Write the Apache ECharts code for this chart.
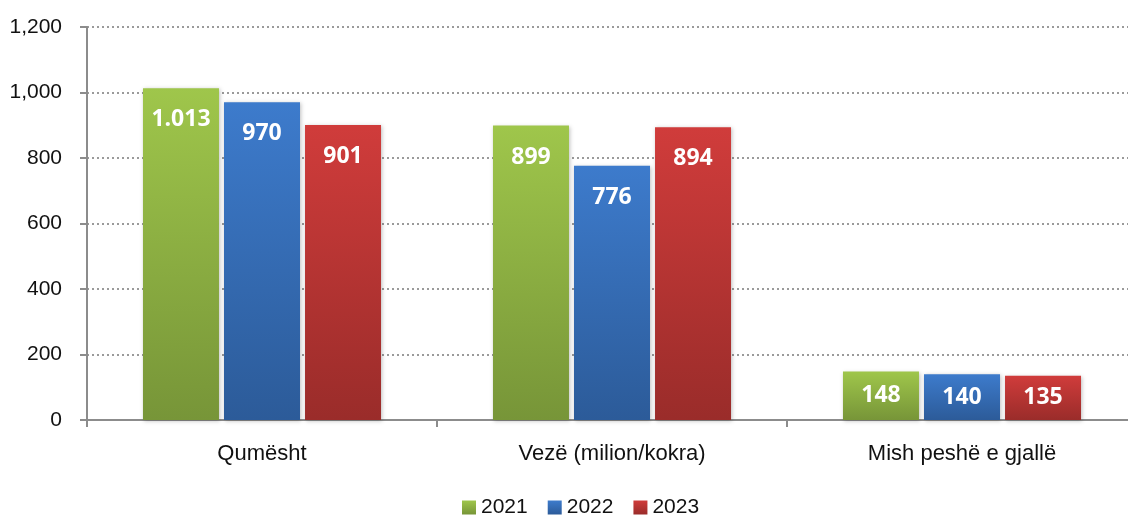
<!DOCTYPE html>
<html>
<head>
<meta charset="utf-8">
<script src="https://cdn.jsdelivr.net/npm/echarts@6/dist/echarts.min.js"></script>
<style>
  html, body { margin: 0; padding: 0; background: #fff; overflow: hidden; }
  #chart { width: 1137px; height: 518px; }
</style>
</head>
<body>
<div id="chart"></div>
<script>
let categories = ['Qumësht', 'Vezë (milion/kokra)', 'Mish peshë e gjallë'];
let years = ['2021', '2022', '2023'];
let values2021 = [1013, 899, 148];
let values2022 = [970, 776, 140];
let values2023 = [901, 894, 135];

let colors = [
  ['#9fc64b', '#779538'],
  ['#3d7bcc', '#2c5b99'],
  ['#d03c3b', '#9a2c2a']
];

let fontFam = '"Liberation Sans Narrow", "Liberation Sans", Arial, sans-serif';

let grad = (c) => new echarts.graphic.LinearGradient(0, 0, 0, 1, [
  { offset: 0, color: c[0] },
  { offset: 1, color: c[1] }
]);

// short bars get their label centred, like the original
let toItems = (data) => data.map(v => v < 300
  ? { value: v, label: { position: 'inside' } }
  : { value: v });

let makeSeries = (name, data, i) => ({
  name: name,
  type: 'bar',
  data: toItems(data),
  barWidth: 76,
  barGap: '6.6%',
  itemStyle: {
    color: grad(colors[i]),
    shadowColor: 'rgba(0,0,0,0.25)',
    shadowBlur: 4,
    shadowOffsetX: 1,
    shadowOffsetY: 1
  },
  label: {
    show: true,
    position: 'insideTop',
    distance: 20,
    color: '#fff',
    fontWeight: 'bold',
    fontSize: 23,
    fontFamily: '"Open Sans", "Noto Sans", sans-serif',
    formatter: (p) => String(p.value).replace(/\B(?=(\d{3})+(?!\d))/g, '.')
  }
});

let myChart = echarts.init(document.getElementById('chart'));
let option = {
  animation: false,
  grid: { left: 87, right: 0, top: 27, bottom: 98 },
  legend: {
    top: 492,
    left: 457,
    itemWidth: 14,
    itemHeight: 14,
    itemGap: 20,
    icon: 'rect',
    textStyle: { fontSize: 21, color: '#111', fontFamily: fontFam }
  },
  xAxis: {
    type: 'category',
    data: categories,
    axisLine: { lineStyle: { color: '#8c8c8c', width: 2 } },
    axisTick: { show: true, length: 7, lineStyle: { color: '#8c8c8c', width: 2 } },
    axisLabel: { fontSize: 22, color: '#111', margin: 23, fontFamily: fontFam }
  },
  yAxis: {
    type: 'value',
    min: 0,
    max: 1200,
    interval: 200,
    axisLine: { show: true, lineStyle: { color: '#8c8c8c', width: 2 } },
    axisTick: { show: true, length: 7, lineStyle: { color: '#8c8c8c', width: 2 } },
    axisLabel: {
      fontSize: 21,
      color: '#111',
      margin: 25,
      fontFamily: fontFam,
      formatter: (v) => v.toLocaleString('en-US')
    },
    splitLine: { lineStyle: { color: '#7a7a7a', type: [2, 3], width: 1.5 } }
  },
  series: [
    makeSeries(years[0], values2021, 0),
    makeSeries(years[1], values2022, 1),
    makeSeries(years[2], values2023, 2)
  ]
};

option && myChart.setOption(option);
</script>
</body>
</html>
